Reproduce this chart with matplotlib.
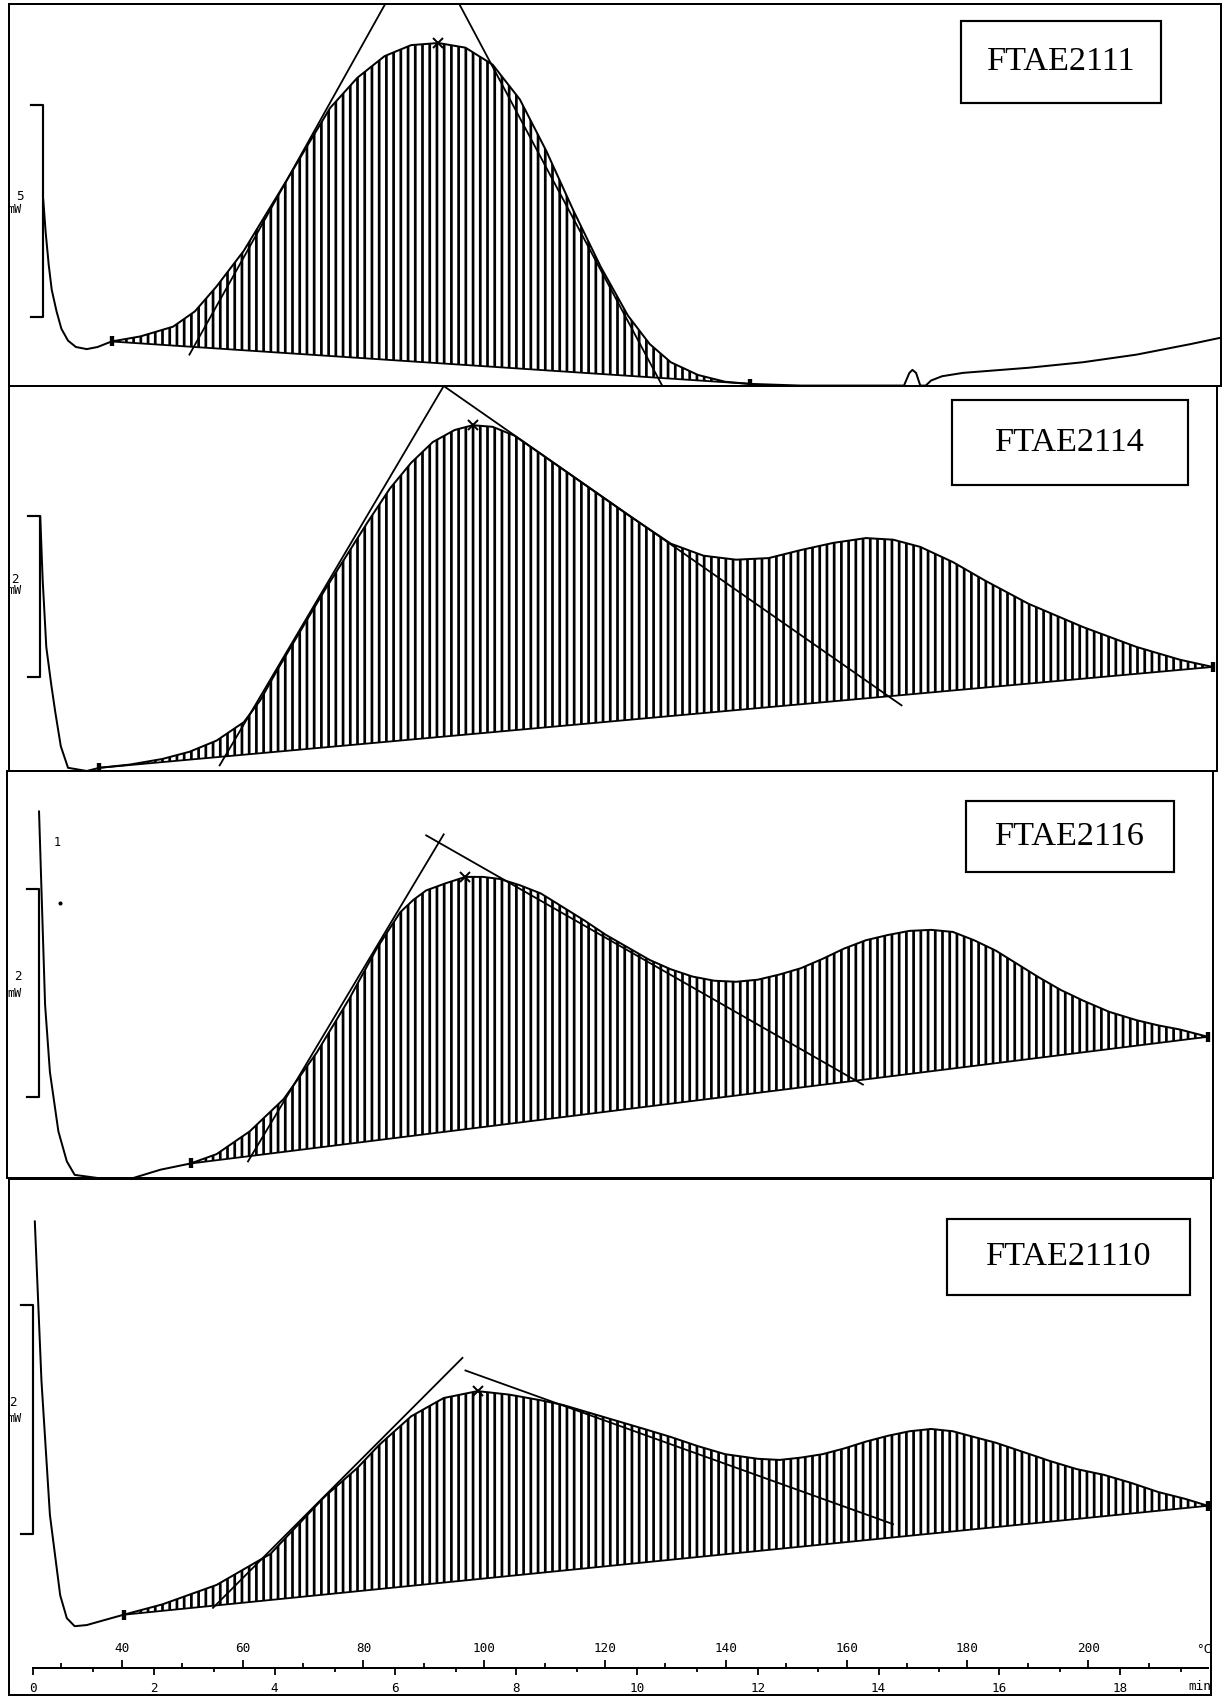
import numpy as np
import matplotlib
matplotlib.use('Agg')
import matplotlib.pyplot as plt
from matplotlib.patches import Rectangle
from matplotlib.ticker import FixedLocator, MultipleLocator

W, H, DPI = 1228, 1697, 130

plt.rcParams['font.family'] = ['DejaVu Sans Mono']
plt.rcParams['hatch.linewidth'] = 1.5

samples = ["FTAE2111", "FTAE2114", "FTAE2116", "FTAE21110"]
bar_mw = [5, 2, 2, 2]

# heating program: about 25 C start, 10 C/min
temp_at_zero = 25.3
rate = 10.0

# DSC traces: time (min) and heat flow (mW above the panel's lower frame)
t1 = [0.17, 0.21, 0.26, 0.31, 0.39, 0.47, 0.58, 0.71, 0.89, 1.07, 1.30, 1.78, 2.32, 2.68, 3.04,
      3.49, 3.84, 4.20, 4.56, 4.92, 5.37, 5.82, 6.26, 6.71, 7.16, 7.61, 8.06, 8.50, 8.95, 9.40,
      9.85, 10.21, 10.56, 11.01, 11.46, 11.87, 12.71, 14.42, 14.51, 14.56, 14.62, 14.69, 14.78,
      14.87, 15.05, 15.40, 16.48, 17.38, 18.27, 19.17, 19.70]
y1 = [4.39, 3.62, 2.86, 2.27, 1.76, 1.35, 1.07, 0.92, 0.87, 0.92, 1.05, 1.17, 1.40, 1.76, 2.35,
      3.19, 4.01, 4.85, 5.71, 6.56, 7.27, 7.78, 8.04, 8.09, 7.98, 7.58, 6.76, 5.54, 4.13, 2.81,
      1.66, 0.99, 0.56, 0.26, 0.10, 0.05, 0.01, 0.01, 0.31, 0.38, 0.31, 0.01, 0.01,
      0.13, 0.23, 0.31, 0.43, 0.56, 0.74, 0.99, 1.15]

t2 = [0.12, 0.16, 0.22, 0.30, 0.37, 0.46, 0.58, 0.89, 1.10, 1.60, 2.14, 2.59, 3.04, 3.49, 3.76,
      4.02, 4.38, 4.83, 5.19, 5.55, 5.91, 6.26, 6.62, 6.98, 7.28, 7.61, 7.97, 8.41, 9.13, 9.85,
      10.56, 11.10, 11.64, 12.18, 12.71, 13.25, 13.79, 14.24, 14.69, 15.23, 15.76, 16.48, 17.38,
      18.27, 18.99, 19.53]
y2 = [3.18, 2.39, 1.55, 1.09, 0.73, 0.31, 0.04, 0.0, 0.04, 0.08, 0.15, 0.24, 0.38, 0.61, 0.88,
      1.23, 1.69, 2.26, 2.69, 3.12, 3.53, 3.85, 4.11, 4.26, 4.32, 4.30, 4.19, 3.96, 3.58, 3.20,
      2.84, 2.69, 2.64, 2.66, 2.76, 2.85, 2.91, 2.89, 2.80, 2.61, 2.38, 2.09, 1.80,
      1.55, 1.39, 1.30]

t3 = [0.10, 0.14, 0.20, 0.28, 0.42, 0.56, 0.69, 1.07, 1.66, 2.11, 2.61, 3.04, 3.59, 4.15, 4.70,
      5.24, 5.69, 6.08, 6.30, 6.51, 6.84, 7.16, 7.45, 7.73, 8.06, 8.41, 8.77, 9.13, 9.49, 9.85,
      10.21, 10.56, 10.92, 11.28, 11.64, 12.00, 12.36, 12.71, 13.07, 13.43, 13.79, 14.15, 14.51,
      14.87, 15.23, 15.58, 15.94, 16.30, 16.66, 17.02, 17.38, 17.82, 18.27, 18.63, 18.99, 19.45]
y3 = [3.53, 2.78, 1.67, 1.02, 0.45, 0.16, 0.03, 0.0, 0.0, 0.08, 0.14, 0.23, 0.45, 0.76, 1.21,
      1.73, 2.21, 2.56, 2.68, 2.77, 2.84, 2.90, 2.90, 2.88, 2.82, 2.74, 2.61, 2.48, 2.34, 2.22,
      2.10, 2.01, 1.94, 1.90, 1.89, 1.91, 1.96, 2.02, 2.11, 2.21, 2.29, 2.34, 2.38,
      2.39, 2.37, 2.29, 2.19, 2.06, 1.93, 1.81, 1.71, 1.60, 1.52, 1.47, 1.43, 1.36]

t4 = [0.03, 0.14, 0.28, 0.45, 0.56, 0.69, 0.89, 1.16, 1.50, 2.14, 3.04, 3.93, 4.83, 5.37, 5.73,
      6.26, 6.80, 7.36, 7.88, 8.41, 8.77, 9.22, 9.67, 10.12, 10.56, 11.01, 11.46, 12.00, 12.36,
      12.71, 13.07, 13.43, 13.79, 14.15, 14.51, 14.87, 15.23, 15.58, 15.94, 16.39, 16.84, 17.28,
      17.73, 18.18, 18.63, 19.08, 19.45]
y4 = [4.13, 2.74, 1.57, 0.87, 0.67, 0.60, 0.61, 0.65, 0.70, 0.79, 0.96, 1.23, 1.73, 1.98, 2.18,
      2.43, 2.59, 2.65, 2.62, 2.57, 2.53, 2.46, 2.39, 2.32, 2.25, 2.17, 2.10, 2.06, 2.05,
      2.07, 2.10, 2.15, 2.21, 2.26, 2.30, 2.32, 2.30, 2.25, 2.20, 2.12, 2.04, 1.97,
      1.92, 1.85, 1.77, 1.71, 1.65]

# integration limits (t, y) -> (t, y)
base1 = (1.30, 1.05, 11.87, 0.05)
base2 = (1.10, 0.04, 19.53, 1.30)
base3 = (2.61, 0.14, 19.45, 1.36)
base4 = (1.50, 0.70, 19.45, 1.65)

peaks = [(6.71, 8.09), (7.28, 4.32), (7.16, 2.90), (7.36, 2.65)]

# onset tangents
tan1 = [(2.59, 0.74, 5.87, 9.11), (7.02, 9.11, 10.42, 0.0)]
tan2 = [(3.09, 0.07, 6.80, 4.81), (6.80, 4.81, 14.38, 0.82)]
tan3 = [(3.56, 0.16, 6.80, 3.31), (6.51, 3.30, 13.74, 0.90)]
tan4 = [(2.98, 0.76, 7.11, 2.94), (7.16, 2.83, 14.24, 1.49)]

# scale bar: time, lower end (mW); label positions
bars = [(0.17, 1.63), (0.12, 1.18), (0.10, 0.78), (0.0, 1.40)]
bar_labels = [(-0.22, 4.46, 4.16), (-0.30, 2.39, 2.26), (-0.25, 1.94, 1.78), (-0.33, 2.55, 2.41)]

# layout on the page (pixels): frame left, right, top, bottom / label box
frames = [(9, 1221, 4, 386), (9, 1217, 386, 771), (7, 1213, 771, 1178), (9, 1211, 1179, 1695)]
ymaxs = [9.01, 4.81, 3.92, 4.50]
boxes = [(961, 1161, 21, 103), (952, 1188, 400, 485), (966, 1174, 801, 872), (947, 1190, 1219, 1295)]
zero_px, px_per_min = 33, 60.4


def px_rect(left, right, top, bottom):
    return [left / W, 1 - bottom / H, (right - left) / W, (bottom - top) / H]


fig = plt.figure(figsize=(W / DPI, H / DPI), dpi=DPI)

traces = [(t1, y1), (t2, y2), (t3, y3), (t4, y4)]
bases = [base1, base2, base3, base4]
tangents = [tan1, tan2, tan3, tan4]

for i in range(4):
    left, right, top, bottom = frames[i]
    ax = fig.add_axes(px_rect(left, right, top, bottom))
    ax.set_xlim((left - zero_px) / px_per_min, (right - zero_px) / px_per_min)
    ax.set_ylim(0, ymaxs[i])
    ax.set_xticks([])
    ax.set_yticks([])
    for s in ax.spines.values():
        s.set_linewidth(1.1)

    t = np.array(traces[i][0])
    y = np.array(traces[i][1])
    b0t, b0y, b1t, b1y = bases[i]
    m = (t >= b0t) & (t <= b1t)
    base_y = np.interp(t[m], [b0t, b1t], [b0y, b1y])
    ax.fill_between(t[m], y[m], base_y, facecolor='none', edgecolor='black',
                    hatch='|||', linewidth=0)
    ax.plot([b0t, b1t], [b0y, b1y], color='black', lw=1.0)
    ax.plot(t, y, color='black', lw=1.1)
    ax.plot([b0t, b1t], [b0y, b1y], ls='none', marker='|', ms=6, mew=2.4, color='black')

    for (a, b, c, d) in tangents[i]:
        ax.plot([a, c], [b, d], color='black', lw=1.0)

    ax.plot(*peaks[i], marker='x', ms=5, mew=1.1, color='black')

    # scale bar
    tb, yl = bars[i]
    ax.plot([tb - 0.2, tb, tb, tb - 0.2], [yl, yl, yl + bar_mw[i], yl + bar_mw[i]],
            color='black', lw=1.2)
    lx, ly_num, ly_unit = bar_labels[i]
    ax.text(lx, ly_num, str(bar_mw[i]), ha='center', va='center', fontsize=7)
    ax.text(-0.31, ly_unit, 'mW', ha='center', va='center', fontsize=6.5, clip_on=True)

    if i == 2:
        ax.text(0.40, 3.23, '1', ha='center', va='center', fontsize=6.5)
        ax.plot(0.44, 2.65, marker='.', ms=2.5, color='black')

    bl, br, bt, bb = boxes[i]
    fig.add_artist(Rectangle((bl / W, 1 - bb / H), (br - bl) / W, (bb - bt) / H,
                             transform=fig.transFigure, fill=False, lw=1.2, ec='black'))
    fig.text((bl + br) / 2 / W, 1 - (bt + bb) / 2 / H, samples[i], ha='center', va='center',
             fontsize=19, family='Liberation Serif')

# time / temperature ruler at the bottom
left, right, top, bottom = frames[3]
axr = fig.add_axes(px_rect(left, right, 1600, 1695))
lo = (left - zero_px) / px_per_min
hi = (right - zero_px) / px_per_min
axr.set_xlim(lo, hi)
axr.set_ylim(0, 1)
axr.patch.set_alpha(0)
for s in ['top', 'left', 'right']:
    axr.spines[s].set_visible(False)
axr.spines['bottom'].set_position(('axes', 0.284))
axr.spines['bottom'].set_bounds(0, 19.45)
axr.spines['bottom'].set_linewidth(1.1)
axr.set_yticks([])
axr.xaxis.set_major_locator(MultipleLocator(2))
axr.xaxis.set_minor_locator(MultipleLocator(1))
axr.tick_params(axis='x', which='major', direction='out', length=4, width=1, pad=3.5, labelsize=7)
axr.tick_params(axis='x', which='minor', direction='out', length=2, width=1)
axr.text(hi, 0.09, 'min', ha='right', va='center', fontsize=7)

axt = axr.twiny()
axt.set_xlim(temp_at_zero + rate * lo, temp_at_zero + rate * hi)
axt.set_ylim(0, 1)
for s in ['bottom', 'left', 'right']:
    axt.spines[s].set_visible(False)
axt.spines['top'].set_position(('axes', 0.284))
axt.spines['top'].set_bounds(temp_at_zero, temp_at_zero + rate * 19.45)
axt.spines['top'].set_linewidth(1.1)
axt.xaxis.set_major_locator(FixedLocator(list(range(40, 201, 20))))
axt.xaxis.set_minor_locator(FixedLocator(list(range(30, 220, 20))))
axt.tick_params(axis='x', which='major', direction='out', length=4.5, width=1, pad=2.5, labelsize=7)
axt.tick_params(axis='x', which='minor', direction='out', length=3, width=1)
axr.text(hi, 0.48, '°C', ha='right', va='center', fontsize=7)

fig.savefig('out.png', dpi=DPI)
